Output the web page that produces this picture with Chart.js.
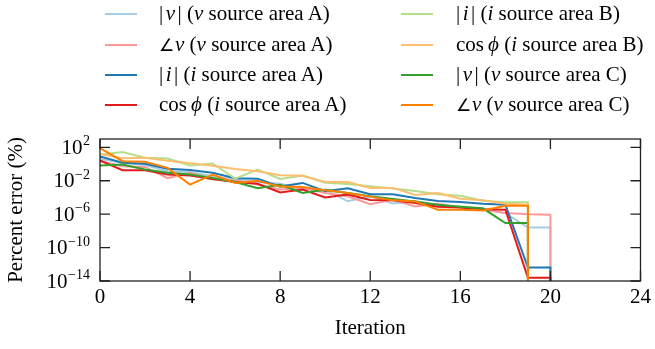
<!DOCTYPE html>
<html><head><meta charset="utf-8">
<script src="https://cdn.jsdelivr.net/npm/chart.js@4.4.1/dist/chart.umd.min.js"></script>
<style>
html,body{margin:0;padding:0;background:#fff;}
#wrap{position:relative;width:655px;height:349px;overflow:hidden;}
#c{position:absolute;left:0;top:0;}
.legtxt{position:absolute;font-family:"Liberation Serif","Times New Roman",serif;font-size:21px;color:#000;white-space:nowrap;line-height:26px;height:26px;}
.legtxt .m{margin:0 2.5px;}
.legtxt .ang{font-size:17px;margin-right:1px;}
.legtxt .ph{margin-left:4px;}
.hdl{position:absolute;height:2px;width:32px;}
</style></head><body>
<div id="wrap"><canvas id="c" width="655" height="349"></canvas><div id="legend"></div></div>
<script>
// ---------------- data ----------------
const iterations = [0,1,2,3,4,5,6,7,8,9,10,11,12,13,14,15,16,17,18,19,20];
const xTickStep = 4;
const xMin = 0, xMax = 24;
const yMin = 1e-14, yMax = 1e3;
const yTickExponents = [2, -2, -6, -10, -14];
const convergedValue = 1e-18; // final "zero" error, drawn below the axis

const seriesLabels = [
  '|<i class="m">v</i>| (<i>v</i> source area A)',
  '<span class="ang">\u2220</span><i>v</i> (<i>v</i> source area A)',
  '|<i class="m">i</i>| (<i>i</i> source area A)',
  'cos<i class="ph">\u03d5</i> (<i>i</i> source area A)',
  '|<i class="m">i</i>| (<i>i</i> source area B)',
  'cos<i class="ph">\u03d5</i> (<i>i</i> source area B)',
  '|<i class="m">v</i>| (<i>v</i> source area C)',
  '<span class="ang">\u2220</span><i>v</i> (<i>v</i> source area C)'
];
const seriesColors = ['#a6cee3','#fb9a99','#1f78b4','#e31a1c','#b2df8a','#fdbf6f','#33a02c','#ff7f00'];

const vMagA   = [4, 1.4, 0.79, 0.14, 0.11, 3.5e-2, 1.4e-2, 7.1e-3, 4.5e-3, 1.05e-3, 8.7e-4, 3.5e-5, 1.4e-4, 1.9e-5, 3.4e-5, 1e-5, 7.9e-6, 4.1e-6, 1.35e-6, 2.5e-8, 2.5e-8];
const vAngA   = [2.24, 0.56, 0.45, 2e-2, 8.9e-2, 1.4e-2, 1.1e-2, 3.5e-3, 8.9e-4, 1.4e-3, 3.5e-4, 1.4e-4, 1.6e-5, 5.4e-5, 8.5e-6, 1.8e-5, 5.9e-6, 3.4e-6, 1.35e-6, 1e-6, 8.5e-7];
const iMagA   = [7.9, 1.4, 1.07, 0.27, 0.19, 8.9e-2, 2e-2, 1.8e-2, 2e-3, 5.5e-3, 5.5e-4, 1.26e-3, 2.5e-4, 2.5e-4, 8.7e-5, 3.8e-5, 2.8e-5, 1.8e-5, 1.35e-5, 4e-13, 4e-13];
const cosPhiA = [2.8, 0.186, 0.186, 5.6e-2, 4.3e-2, 1.66e-2, 6.9e-3, 4.4e-3, 4e-4, 8.7e-4, 1e-4, 2.2e-4, 5e-5, 4.5e-5, 2.2e-5, 7.9e-6, 6.3e-6, 4e-6, 3.5e-6, 2.5e-14, 2.5e-14];
const iMagB   = [12.6, 26.9, 5.75, 4.7, 0.68, 1.17, 1.8e-2, 0.224, 1.66e-2, 4.3e-2, 5.75e-3, 4.2e-3, 2.2e-3, 1.2e-3, 6e-4, 2.5e-4, 1.6e-4, 4.1e-5, 2.6e-5, 2.6e-5];
const cosPhiB = [15.8, 5, 5.6, 2.5, 1.26, 0.63, 0.25, 0.14, 4.5e-2, 4e-2, 7.1e-3, 7.1e-3, 1.4e-3, 1.4e-3, 2e-4, 3.5e-4, 7.1e-5, 4.5e-5, 1.8e-5, 1.35e-5];
const vMagC   = [0.68, 0.89, 0.224, 8.9e-2, 5.6e-2, 2.2e-2, 7.1e-3, 1.3e-3, 3.3e-3, 3.5e-4, 8.3e-4, 3.5e-4, 1.4e-4, 6.6e-5, 3.4e-5, 1.35e-5, 7.9e-6, 5e-6, 8.5e-8, 8.5e-8];
const vAngC   = [79, 2.24, 1.86, 0.35, 3.5e-3, 5.6e-2, 5.5e-3, 1e-2, 2e-3, 1.8e-3, 7.1e-4, 3.5e-4, 1.26e-4, 4.5e-5, 3.4e-5, 3.4e-6, 3.5e-6, 2.8e-6, 1e-5, 1e-5];

const seriesValues = [vMagA, vAngA, iMagA, cosPhiA, iMagB, cosPhiB, vMagC, vAngC];

// ---------------- build ----------------
const FONT = '"Liberation Serif","Times New Roman",serif';

function toPoints(vals){
  const pts = vals.map((v,i)=>({x: iterations[i], y: v}));
  pts.push({x: iterations[vals.length-1], y: convergedValue});
  return pts;
}

const datasets = seriesValues.map((vals,i)=>({
  label: seriesLabels[i].replace(/<[^>]+>/g,''),
  data: toPoints(vals),
  borderColor: seriesColors[i],
  backgroundColor: seriesColors[i],
  borderWidth: 2,
  pointRadius: 0,
  tension: 0,
  fill: false,
  order: seriesValues.length - 1 - i
}));

const framePlugin = {
  id: 'frame',
  afterDatasetsDraw(chart){
    const ctx = chart.ctx;
    const a = chart.chartArea;
    const xs = chart.scales.x, ys = chart.scales.y;
    ctx.save();
    ctx.strokeStyle = '#222';
    ctx.lineWidth = 1.3;
    ctx.strokeRect(a.left, a.top, a.right - a.left, a.bottom - a.top);
    const tl = 10;
    ctx.beginPath();
    xs.ticks.forEach(t=>{
      const px = xs.getPixelForValue(t.value);
      ctx.moveTo(px, a.bottom); ctx.lineTo(px, a.bottom - tl);
      ctx.moveTo(px, a.top); ctx.lineTo(px, a.top + tl);
    });
    ys.ticks.forEach(t=>{
      const py = ys.getPixelForValue(t.value);
      ctx.moveTo(a.left, py); ctx.lineTo(a.left + tl, py);
      ctx.moveTo(a.right, py); ctx.lineTo(a.right - tl, py);
    });
    ctx.stroke();
    // y tick labels: 10^e
    ctx.fillStyle = '#000';
    ctx.textBaseline = 'alphabetic';
    yTickExponents.forEach(e=>{
      const py = ys.getPixelForValue(Math.pow(10, e));
      const expStr = (e < 0 ? '\u2212' : '') + Math.abs(e);
      ctx.font = '14px ' + FONT;
      const we = ctx.measureText(expStr).width;
      const right = a.left - 10;
      ctx.textAlign = 'left';
      ctx.fillText(expStr, right - we, py - 2);
      ctx.font = '21px ' + FONT;
      ctx.textAlign = 'right';
      ctx.fillText('10', right - we - 0.5, py + 6.5);
    });
    ctx.restore();
  }
};

new Chart(document.getElementById('c'), {
  type: 'line',
  data: { datasets },
  options: {
    responsive: false,
    animation: false,
    layout: { padding: { top: 139, right: 12, left: 0, bottom: 0 } },
    plugins: { legend: { display: false }, tooltip: { enabled: false } },
    scales: {
      x: {
        type: 'linear', min: xMin, max: xMax,
        ticks: { stepSize: xTickStep, font: { family: FONT, size: 21 }, color: '#000', padding: 4, maxRotation: 0 },
        grid: { display: false, drawTicks: false },
        border: { display: false },
        title: { display: true, text: 'Iteration', font: { family: FONT, size: 21 }, color: '#000', padding: { top: 0, bottom: 8 } },
        afterFit(s){ s.height = 68; }
      },
      y: {
        type: 'logarithmic', min: yMin, max: yMax,
        afterBuildTicks(s){ s.ticks = yTickExponents.map(e=>({ value: Math.pow(10, e) })); },
        ticks: { display: false },
        grid: { display: false, drawTicks: false },
        border: { display: false },
        title: { display: true, text: 'Percent error (%)', font: { family: FONT, size: 21 }, color: '#000', padding: { top: 4, bottom: 0 } },
        afterFit(s){ s.width = 100; }
      }
    }
  },
  plugins: [framePlugin]
});

// ---------------- legend (HTML text) ----------------
const leg = document.getElementById('legend');
const rowCenters = [14, 44.5, 75, 105];
const hdlLeft = [105, 401];
const txtLeft = [159, 456];
seriesLabels.forEach((lab,i)=>{
  const col = Math.floor(i/4), row = i % 4;
  const h = document.createElement('div');
  h.className = 'hdl';
  h.style.left = hdlLeft[col] + 'px';
  h.style.top = (rowCenters[row] - 1) + 'px';
  h.style.background = seriesColors[i];
  leg.appendChild(h);
  const t = document.createElement('div');
  t.className = 'legtxt';
  t.style.left = txtLeft[col] + 'px';
  t.style.top = (rowCenters[row] - 14) + 'px';
  t.innerHTML = lab;
  leg.appendChild(t);
});
</script>
</body></html>
